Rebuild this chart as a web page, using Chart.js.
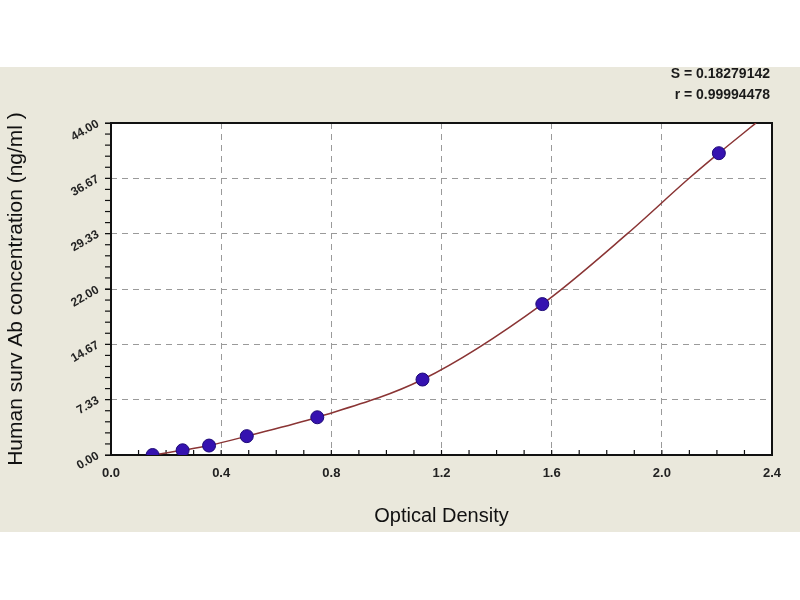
<!DOCTYPE html>
<html lang="en">
<head>
  <meta charset="UTF-8">
  <title>Standard Curve</title>
  <script src="https://cdn.jsdelivr.net/npm/chart.js"></script>
  <style>
    html, body { margin: 0; padding: 0; background: #fff; }
    #wrap { width: 800px; height: 600px; }
  </style>
</head>
<body>
  <div id="wrap"><canvas id="curveChart" width="800" height="600"></canvas></div>

  <script>
    // standards: optical density vs concentration
    const odValues = [0.151, 0.260, 0.356, 0.493, 0.749, 1.131, 1.566, 2.207];
    const concValues = [0, 0.625, 1.25, 2.5, 5, 10, 20, 40];

    // fitted curve
    const curveOD = [0.151, 0.260, 0.356, 0.493, 0.749, 1.131, 1.566, 1.875, 2.099, 2.207, 2.342];
    const curveConc = [0, 0.625, 1.25, 2.5, 5, 10, 20, 29.33, 36.67, 40, 44];

    const xTicks = [0, 0.4, 0.8, 1.2, 1.6, 2.0, 2.4];
    const xTickLabels = ['0.0', '0.4', '0.8', '1.2', '1.6', '2.0', '2.4'];
    const yTicks = [0, 7.333, 14.667, 22, 29.333, 36.667, 44];
    const yTickLabels = ['0.00', '7.33', '14.67', '22.00', '29.33', '36.67', '44.00'];

    const fitLines = ['S = 0.18279142', 'r = 0.99994478'];

    const FONT = '"Liberation Sans", Arial, sans-serif';

    const frame = {
      id: 'frame',
      beforeDraw(chart) {
        const c = chart.ctx;
        const a = chart.chartArea;
        c.save();
        c.fillStyle = '#ffffff';
        c.fillRect(0, 0, chart.width, chart.height);
        c.fillStyle = '#eae8dc';
        c.fillRect(0, 67, chart.width, 465);
        c.fillStyle = '#ffffff';
        c.fillRect(a.left, a.top, a.right - a.left, a.bottom - a.top);
        c.restore();
      },
      beforeDatasetsDraw(chart) {
        const c = chart.ctx;
        const a = chart.chartArea;
        const x = chart.scales.x, y = chart.scales.y;
        c.save();
        c.strokeStyle = '#111';
        c.lineWidth = 1.2;
        // minor ticks on x, pointing into the plot
        for (let i = 0; i <= 24; i++) {
          const px = x.getPixelForValue(i / 10);
          c.beginPath();
          c.moveTo(px, a.bottom);
          c.lineTo(px, a.bottom - 5);
          c.stroke();
        }
        // minor ticks on y, pointing out
        for (let i = 0; i <= 30; i++) {
          const py = y.getPixelForValue(i * 44 / 30);
          c.beginPath();
          c.moveTo(a.left, py);
          c.lineTo(a.left - 6, py);
          c.stroke();
        }
        c.lineWidth = 2;
        c.strokeRect(a.left, a.top, a.right - a.left, a.bottom - a.top);
        c.restore();
      },
      afterDraw(chart) {
        const c = chart.ctx;
        c.save();
        c.fillStyle = '#1a1a1a';
        c.font = 'bold 14px ' + FONT;
        c.textAlign = 'right';
        c.textBaseline = 'middle';
        c.fillText(fitLines[0], 770, 74);
        c.fillText(fitLines[1], 770, 95);
        c.restore();
      }
    };

    const ctx = document.getElementById('curveChart').getContext('2d');
    new Chart(ctx, {
      type: 'scatter',
      data: {
        datasets: [
          {
            label: 'Standards',
            data: odValues.map((v, i) => ({ x: v, y: concValues[i] })),
            backgroundColor: '#3512b0',
            borderColor: '#1e0a78',
            borderWidth: 1,
            pointRadius: 6.5,
            pointHoverRadius: 6.5,
            order: 0
          },
          {
            label: 'Fit',
            type: 'line',
            data: curveOD.map((v, i) => ({ x: v, y: curveConc[i] })),
            borderColor: '#8a3434',
            borderWidth: 1.5,
            pointRadius: 0,
            fill: false,
            cubicInterpolationMode: 'monotone',
            order: 1
          }
        ]
      },
      options: {
        responsive: false,
        animation: false,
        layout: { padding: { top: 123, right: 28, bottom: 68, left: 0 } },
        plugins: {
          legend: { display: false },
          tooltip: { enabled: false }
        },
        scales: {
          x: {
            type: 'linear',
            min: 0,
            max: 2.4,
            afterFit(scale) { scale.height = 77; },
            afterBuildTicks(scale) { scale.ticks = xTicks.map(v => ({ value: v })); },
            grid: { color: '#9a9a9a', lineWidth: 1, drawTicks: false },
            border: { display: false, dash: [6, 5] },
            ticks: {
              padding: 11,
              color: '#222',
              font: { family: FONT, size: 13, weight: 'bold' },
              callback: (v, i) => xTickLabels[i]
            },
            title: {
              display: true,
              text: 'Optical Density',
              color: '#111',
              font: { family: FONT, size: 20 },
              padding: { top: 0, bottom: 4 }
            }
          },
          y: {
            type: 'linear',
            min: 0,
            max: 44,
            afterFit(scale) { scale.width = 111; },
            afterBuildTicks(scale) { scale.ticks = yTicks.map(v => ({ value: v })); },
            grid: { color: '#9a9a9a', lineWidth: 1, tickLength: 6, tickColor: '#111', tickBorderDash: [] },
            border: { display: false, dash: [6, 5] },
            ticks: {
              padding: 7,
              minRotation: 30,
              maxRotation: 30,
              color: '#222',
              font: { family: FONT, size: 12, weight: 'bold' },
              callback: (v, i) => yTickLabels[i]
            },
            title: {
              display: true,
              text: 'Human surv Ab concentration (ng/ml )',
              color: '#111',
              font: { family: FONT, size: 21 },
              padding: { top: 4, bottom: 0 }
            }
          }
        }
      },
      plugins: [frame]
    });
  </script>
</body>
</html>
